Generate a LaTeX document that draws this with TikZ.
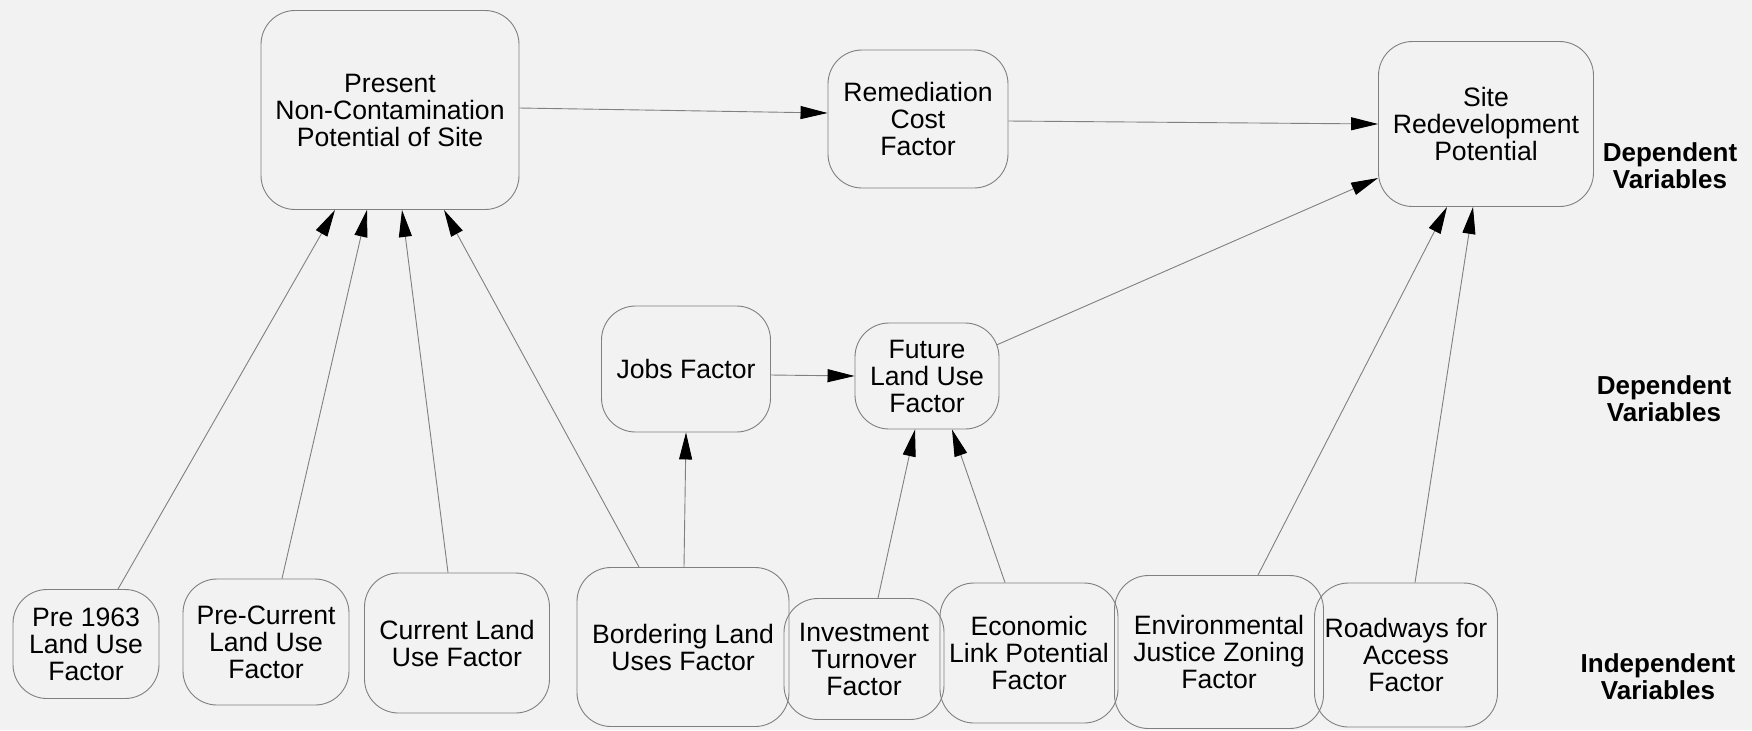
\documentclass[tikz,border=0pt]{standalone}
\usepackage{fontspec}
\setmainfont{Liberation Sans}
\usetikzlibrary{arrows.meta,calc}
\begin{document}
\begin{tikzpicture}[x=0.5pt,y=-0.5pt,
  box/.style={draw=black!50, line width=0.45pt, rounded corners=17pt, align=center,
    inner sep=0pt, text=black, font=\fontsize{13.3pt}{13.5pt}\selectfont},
  link/.style={draw=black!50, line width=0.45pt,
    -{Triangle[length=13.5pt,width=6.5pt,color=black]}},
  side/.style={align=center, inner sep=0pt, text=black,
    font=\fontsize{13pt}{13.6pt}\selectfont\bfseries}]

% page and background
\fill[black!5] (0,0) rectangle (1752,730);
\useasboundingbox (0,0) rectangle (1752,730);

% dependent variables, top row
\node[box, minimum width=129pt, minimum height=99.5pt] (present) at (390,110)
  {Present\\Non-Contamination\\Potential of Site};
\node[box, minimum width=90pt, minimum height=69pt] (remed) at (918,119)
  {Remediation\\Cost\\Factor};
\node[box, minimum width=107.5pt, minimum height=82.5pt] (site) at (1486,124)
  {Site\\Redevelopment\\Potential};

% dependent variables, middle row
\node[box, minimum width=84.5pt, minimum height=63pt] (jobs) at (686,369)
  {Jobs Factor};
\node[box, minimum width=72pt, minimum height=53pt] (future) at (927,376)
  {Future\\Land Use\\Factor};

% independent variables
\node[box, minimum width=73pt, minimum height=54.5pt] (pre63) at (86,644)
  {Pre 1963\\Land Use\\Factor};
\node[box, minimum width=83pt, minimum height=63pt] (precur) at (266,642)
  {Pre-Current\\Land Use\\Factor};
\node[box, minimum width=92.5pt, minimum height=70pt] (curr) at (457,643)
  {Current Land\\Use Factor};
\node[box, minimum width=106pt, minimum height=79.5pt] (border) at (683,647)
  {Bordering Land\\Uses Factor};
\node[box, minimum width=80pt, minimum height=60.5pt] (invest) at (864,659)
  {Investment\\Turnover\\Factor};
\node[box, minimum width=89pt, minimum height=70pt] (econ) at (1029,653)
  {Economic\\Link Potential\\Factor};
\node[box, minimum width=104.5pt, minimum height=76.5pt] (env) at (1219,652)
  {Environmental\\Justice Zoning\\Factor};
\node[box, minimum width=91.5pt, minimum height=72pt] (road) at (1406,655)
  {Roadways for\\Access\\Factor};

% row labels
\node[side] (labtop) at (1670,166) {Dependent\\Variables};
\node[side] (labmid) at (1664,399) {Dependent\\Variables};
\node[side] (labbot) at (1658,677) {Independent\\Variables};

% connectors
\draw[link] ($(pre63.north)+(32,0)$) -- ($(present.south)+(-55,0)$);
\draw[link] ($(precur.north)+(16,0)$) -- ($(present.south)+(-23,0)$);
\draw[link] ($(curr.north)+(-9,0)$) -- ($(present.south)+(12,0)$);
\draw[link] ($(border.north)+(-44,0)$) -- ($(present.south)+(54,0)$);
\draw[link] ($(border.north)+(1,0)$) -- (jobs.south);
\draw[link] ($(invest.north)+(14,0)$) -- ($(future.south)+(-12,0)$);
\draw[link] ($(econ.north)+(-24,0)$) -- ($(future.south)+(25,0)$);
\draw[link] ($(jobs.east)+(0,6)$) -- (future.west);
\draw[link] ($(future.east)+(-3,-31)$) -- ($(site.west)+(0,54)$);
\draw[link] ($(env.north)+(39,0)$) -- ($(site.south)+(-39,0)$);
\draw[link] ($(road.north)+(9,0)$) -- ($(site.south)+(-13,0)$);
\draw[link] ($(present.east)+(0,-2)$) -- ($(remed.west)+(0,-6)$);
\draw[link] ($(remed.east)+(0,2)$) -- (site.west);
\end{tikzpicture}
\end{document}
